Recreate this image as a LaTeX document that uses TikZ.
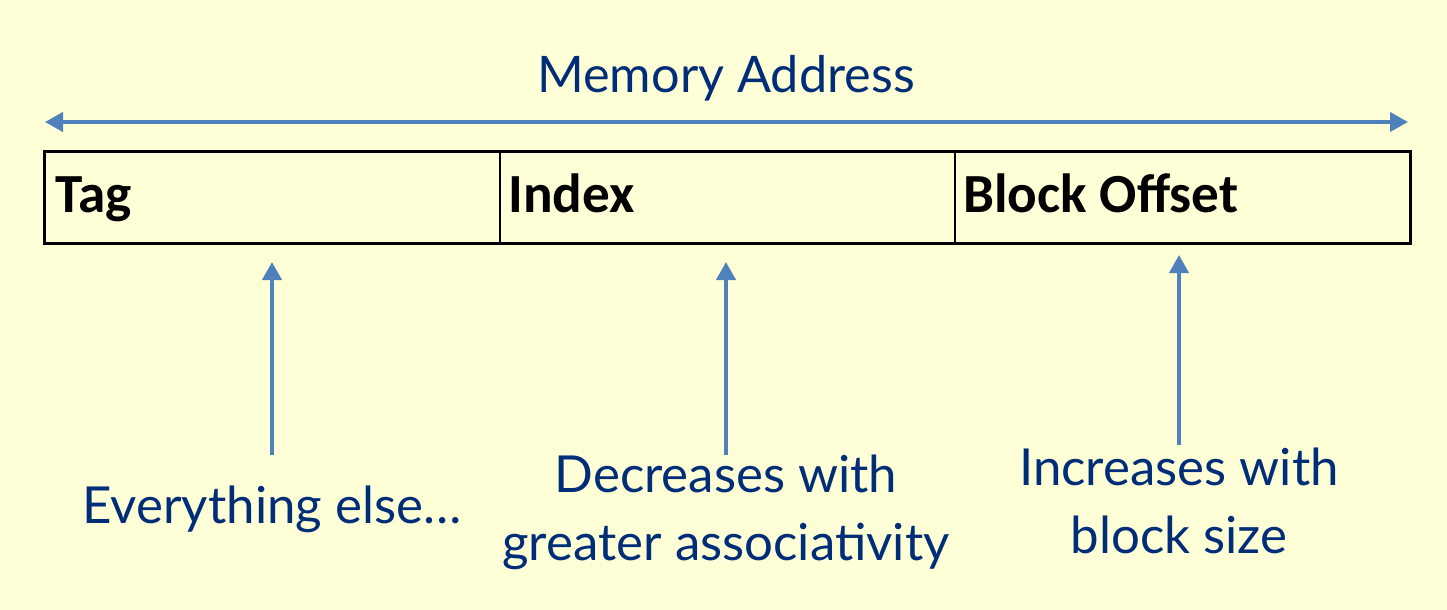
\documentclass[tikz,border=0pt]{standalone}
\usepackage{fontspec}
\setmainfont{Lato}
\newfontfamily\boxfont{Carlito}
\usetikzlibrary{arrows.meta}
\definecolor{paper}{RGB}{255,255,215}
\definecolor{navy}{RGB}{0,45,120}
\definecolor{arrowblue}{RGB}{79,129,189}

\begin{document}
\begin{tikzpicture}[x=0.5pt,y=-0.5pt,
        field/.style={draw,line width=0.75pt,minimum width=227.5pt,minimum height=45pt,inner sep=0pt},
        fieldlabel/.style={anchor=base west,inner sep=0pt,font=\boxfont\bfseries\fontsize{27.6}{30}\selectfont},
        note/.style={text=navy,align=center,font=\fontsize{25.5}{34}\selectfont},
        pointer/.style={draw=arrowblue,line width=2pt,-{Triangle[length=9pt,width=9.5pt]}}]
        \fill[paper] (0,0) rectangle (1447,610);
        \useasboundingbox (0,0) rectangle (1447,610);
        % address fields
        \node[field,anchor=north west] (tag) at (44,152) {};
        \node[field,anchor=north west] (index) at (499,152) {};
        \node[field,anchor=north west] (offset) at (954,152) {};
        \draw[line width=1.5pt] (tag.north west) rectangle (offset.south east);
        \node[fieldlabel] (taglabel) at (55,213) {Tag};
        \node[fieldlabel] (indexlabel) at (508,213) {Index};
        \node[fieldlabel] (offsetlabel) at (963,213) {Block Offset};
        % whole address
        \coordinate (L) at (45,122);
        \coordinate (R) at (1408,122);
        \draw[pointer,{Triangle[length=9pt,width=9.5pt]}-{Triangle[length=9pt,width=9.5pt]}] (L) -- (R);
        \node[note,anchor=base,font=\fontsize{25.2}{30}\selectfont] (title) at (726,93) {Memory Address};
        % what sets each field
        \coordinate (tagtip) at (272,262);
        \coordinate (tagfoot) at (272,455);
        \coordinate (indextip) at (726,262);
        \coordinate (indexfoot) at (726,455);
        \coordinate (offsettip) at (1179,255);
        \coordinate (offsetfoot) at (1179,445);
        \draw[pointer] (tagfoot) -- (tagtip);
        \draw[pointer] (indexfoot) -- (indextip);
        \draw[pointer] (offsetfoot) -- (offsettip);
        \node[note,anchor=base] (tagnote) at (272,523) {Everything else…};
        \node[note,anchor=base] (indexnote) at (726,560) {Decreases with\\greater associativity};
        \node[note,anchor=base] (offsetnote) at (1179,553) {Increases with\\block size};
\end{tikzpicture}
\end{document}
